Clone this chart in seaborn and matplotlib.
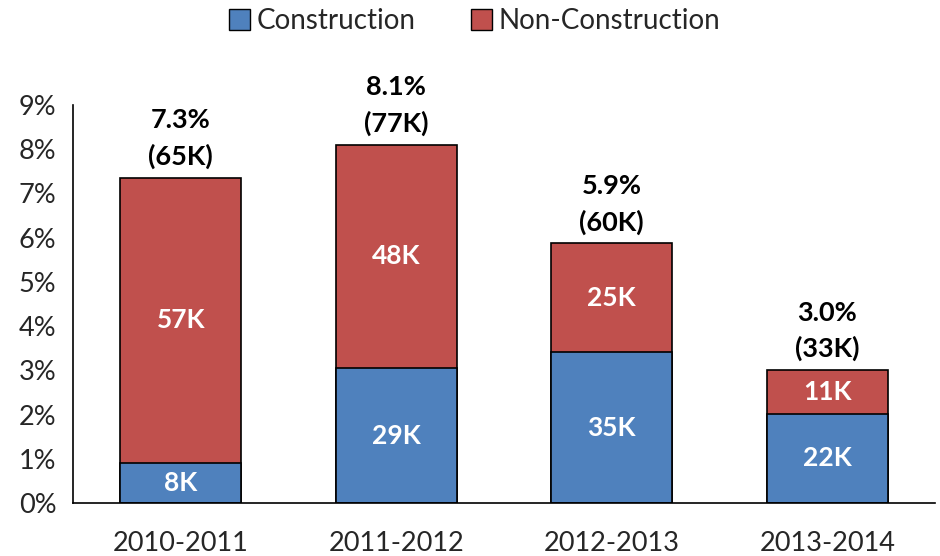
import numpy as np
import pandas as pd
import matplotlib
matplotlib.use("Agg")
import matplotlib.pyplot as plt
import seaborn as sns
from matplotlib.patches import Patch

periods = ["2010-2011", "2011-2012", "2012-2013", "2013-2014"]
construction_pct = [0.91, 3.05, 3.41, 2.02]
total_pct = [7.36, 8.10, 5.87, 3.00]
construction_k = ["8K", "29K", "35K", "22K"]
nonconstruction_k = ["57K", "48K", "25K", "11K"]
total_labels = ["7.3%\n(65K)", "8.1%\n(77K)", "5.9%\n(60K)", "3.0%\n(33K)"]

blue = "#4F81BD"
red = "#C0504D"

sns.set_style("white")
plt.rcParams['font.family'] = ['Lato', 'DejaVu Sans']

df = pd.DataFrame({"period": periods, "construction": construction_pct, "total": total_pct})

fig = plt.figure(figsize=(9.4, 5.56), dpi=100)
ax = fig.add_axes([73 / 940, 1 - 503 / 556, (935 - 73) / 940, (503 - 105) / 556])

sns.barplot(data=df, x="period", y="total", color=red, width=0.56,
            edgecolor="black", linewidth=1.2, saturation=1, ax=ax)
sns.barplot(data=df, x="period", y="construction", color=blue, width=0.56,
            edgecolor="black", linewidth=1.2, saturation=1, ax=ax)

for i in range(len(periods)):
    c = construction_pct[i]
    t = total_pct[i]
    ax.text(i, c / 2, construction_k[i], ha="center", va="center",
            color="white", fontsize=19, fontweight="bold")
    ax.text(i, (c + t) / 2, nonconstruction_k[i], ha="center", va="center",
            color="white", fontsize=19, fontweight="bold")
    ax.text(i, t + 0.2, total_labels[i], ha="center", va="bottom",
            color="black", fontsize=19.5, fontweight="bold", linespacing=1.55)

ax.set_xlim(-0.5, 3.5)
ax.set_ylim(0, 9)
ax.set_yticks(range(10))
ax.set_yticklabels([f"{v}%" for v in range(10)])
ax.set_xlabel("")
ax.set_ylabel("")

# x ticks sit between categories, labels centred under bars
ax.set_xticks([-0.5, 0.5, 1.5, 2.5, 3.5])
ax.set_xticklabels([])
ax.set_xticks(range(4), minor=True)
ax.set_xticklabels(periods, minor=True)
ax.tick_params(axis="x", which="major", direction="out", length=8, width=1.2, color="black")
ax.tick_params(axis="x", which="minor", length=0, pad=20, labelsize=19.5)
ax.tick_params(axis="y", direction="out", length=7, width=1.2, color="black", labelsize=19.5, pad=5)

sns.despine(ax=ax, top=True, right=True)
for s in ["left", "bottom"]:
    ax.spines[s].set_color("black")
    ax.spines[s].set_linewidth(1.2)

handles = [Patch(facecolor=blue, edgecolor="black", label="Construction"),
           Patch(facecolor=red, edgecolor="black", label="Non-Construction")]
fig.legend(handles=handles, loc="upper center", bbox_to_anchor=(0.505, 1.03), ncol=2,
           frameon=False, fontsize=20, handlelength=0.75, handleheight=0.75,
           handletextpad=0.25, columnspacing=2.0)

fig.savefig("out.png", dpi=100)
